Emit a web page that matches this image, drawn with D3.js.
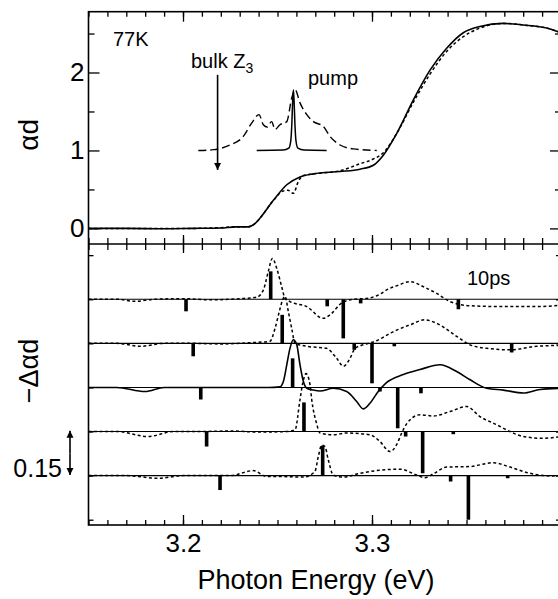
<!DOCTYPE html>
<html>
<head>
<meta charset="utf-8">
<script src="https://cdn.jsdelivr.net/npm/d3@7"></script>
<style>
  body { margin: 0; background: #fff; }
  svg { display: block; font-family: "Liberation Sans", Arial, sans-serif; }
  .axis path { display: none; }
  .axis line { stroke: #000; stroke-width: 1.3; }
  .axis text { fill: #000; }
</style>
</head>
<body>
<svg id="chart" width="558" height="599"></svg>
<script>
// ---- upper panel: absorption (alpha d) ----
const absUnpumped = [[3.150,0],[3.170,0],[3.190,-0.005],[3.205,0],[3.220,0.005],[3.228,0.02],[3.2346,0.02],[3.2380,0.06],
  [3.2407,0.13],[3.2478,0.36],[3.2549,0.56],[3.2619,0.66],[3.2690,0.70],[3.2831,0.73],[3.2937,0.76],[3.3007,0.81],
  [3.3060,0.94],[3.3131,1.22],[3.3219,1.65],[3.3307,2.03],[3.3395,2.31],[3.3483,2.51],[3.3571,2.59],[3.3695,2.63],
  [3.3800,2.61],[3.3924,2.57],[3.3977,2.53],[3.400,2.51]];
const absPumped = [[3.150,0],[3.170,0],[3.190,0],[3.205,0],[3.220,0.01],[3.228,0.02],[3.2346,0.02],[3.2380,0.06],
  [3.2407,0.13],[3.2478,0.36],[3.2530,0.48],[3.2555,0.49],[3.2584,0.45],[3.2610,0.60],[3.2637,0.68],[3.2690,0.70],
  [3.2831,0.74],[3.2937,0.83],[3.3007,0.89],[3.3060,0.97],[3.3131,1.22],[3.3219,1.62],[3.3307,1.98],[3.3395,2.27],
  [3.3483,2.46],[3.3571,2.57],[3.3695,2.63],[3.3800,2.61],[3.3924,2.57],[3.400,2.51]];
const pumpSpectrum = [[3.2081,1.0],[3.2160,1.01],[3.2249,1.07],[3.2319,1.18],[3.2363,1.35],[3.2402,1.46],[3.2425,1.33],
  [3.2446,1.30],[3.2469,1.37],[3.2487,1.27],[3.2513,1.33],[3.2549,1.37],[3.2575,1.67],[3.2593,1.78],[3.2619,1.61],
  [3.2655,1.46],[3.2690,1.37],[3.2742,1.31],[3.2778,1.18],[3.2831,1.07],[3.2901,1.02],[3.3025,1.0]];
const pumpLaser = [[3.2390,1.0],[3.2530,1.005],[3.2560,1.03],[3.2570,1.12],[3.2576,1.35],[3.2580,1.62],[3.2584,1.78],
  [3.2588,1.62],[3.2592,1.35],[3.2598,1.12],[3.2608,1.03],[3.2640,1.005],[3.2760,1.0]];
const bulkZ3 = 3.2183;

// ---- lower panel: -delta alpha d, traces top to bottom ----
const traceOffsets = [0.60, 0.45, 0.30, 0.15, 0];
const traceStyles = ['dotted', 'dotted', 'solid', 'dotted', 'dotted'];
const traceA = [[3.150,0],[3.165,0],[3.1746,-0.007],[3.185,0],[3.200,0.002],[3.215,-0.002],[3.230,0.002],[3.239,0.007],
  [3.2425,0.031],[3.2451,0.094],[3.2473,0.139],[3.2496,0.105],[3.2522,0.043],[3.2540,0.003],[3.2566,-0.008],
  [3.2655,-0.025],[3.2742,-0.065],[3.2787,-0.048],[3.2831,-0.017],[3.2901,0],[3.2972,0.003],[3.3042,0.017],
  [3.3078,0.032],[3.3140,0.048],[3.3201,0.060],[3.3271,0.043],[3.3342,0.020],[3.3413,-0.008],[3.3519,-0.022],
  [3.3695,-0.025],[3.3871,-0.025],[3.400,-0.020]];
const traceB = [[3.150,0],[3.165,0],[3.1773,-0.010],[3.190,0],[3.205,0],[3.220,-0.002],[3.235,0.002],[3.2460,0.007],
  [3.2487,0.051],[3.2510,0.109],[3.2527,0.148],[3.2540,0.160],[3.2557,0.109],[3.2575,0.051],[3.2593,0],[3.2655,-0.010],
  [3.2760,-0.017],[3.2813,-0.051],[3.2848,-0.078],[3.2884,-0.051],[3.2910,-0.017],[3.2954,-0.005],[3.3025,0.009],
  [3.3095,0.034],[3.3201,0.063],[3.3280,0.080],[3.3342,0.068],[3.3448,0.024],[3.3519,-0.005],[3.3607,-0.017],
  [3.3730,-0.022],[3.3871,-0.010],[3.400,-0.007]];
const traceC = [[3.150,0],[3.165,0],[3.1799,-0.014],[3.190,0],[3.210,0],[3.230,0],[3.245,0],[3.2513,0.002],
  [3.2531,0.020],[3.2549,0.077],[3.2566,0.133],[3.2584,0.162],[3.2602,0.145],[3.2619,0.077],[3.2637,0.020],
  [3.2655,-0.003],[3.2689,-0.009],[3.2725,-0.012],[3.2795,-0.003],[3.2866,-0.014],[3.2919,-0.048],[3.2954,-0.073],
  [3.2989,-0.054],[3.3033,-0.014],[3.3078,0.017],[3.3166,0.044],[3.3254,0.061],[3.3360,0.077],[3.3448,0.054],
  [3.3519,0.026],[3.3607,-0.003],[3.3695,-0.009],[3.3801,-0.019],[3.3889,-0.007],[3.400,-0.003]];
const traceD = [[3.150,0],[3.165,0],[3.1815,-0.017],[3.195,0],[3.210,0],[3.225,0.002],[3.240,-0.002],[3.255,0],
  [3.2593,0.006],[3.2619,0.108],[3.2633,0.163],[3.2651,0.197],[3.2672,0.160],[3.2681,0.109],[3.2707,0.027],
  [3.2725,-0.005],[3.2795,-0.011],[3.2866,-0.005],[3.2989,-0.011],[3.3042,-0.034],[3.3095,-0.068],[3.3131,-0.044],
  [3.3157,-0.005],[3.3184,0.027],[3.3254,0.057],[3.3324,0.053],[3.3413,0.068],[3.3501,0.085],[3.3571,0.051],
  [3.3660,0.023],[3.3730,0],[3.3801,-0.017],[3.3906,-0.023],[3.400,-0.017]];
const traceE = [[3.150,0],[3.170,0],[3.1869,-0.009],[3.200,0],[3.215,0],[3.225,0],[3.2372,0.017],[3.2443,-0.003],
  [3.2513,-0.003],[3.2637,-0.005],[3.2698,0.014],[3.2716,0.065],[3.2734,0.104],[3.2751,0.099],[3.2769,0.053],
  [3.2795,0.002],[3.2848,-0.005],[3.2937,0.008],[3.3025,0.017],[3.3148,0.022],[3.3237,0.002],[3.3280,-0.007],
  [3.3324,0.006],[3.3395,0.029],[3.3519,0.031],[3.3642,0.044],[3.3730,0.029],[3.3836,0.008],[3.3942,-0.001],[3.400,0]];
const traces = [traceA, traceB, traceC, traceD, traceE];

// transition markers for each trace: [energy, strength]
const barsA = [[3.2464,0.095],[3.2016,-0.041],[3.2763,-0.024],[3.2848,-0.133],[3.2940,-0.014],[3.3457,-0.034]];
const barsB = [[3.2525,0.097],[3.2054,-0.044],[3.2906,-0.022],[3.3000,-0.136],[3.3118,-0.010],[3.3739,-0.031]];
const barsC = [[3.2580,0.099],[3.2094,-0.041],[3.3042,-0.014],[3.3136,-0.139],[3.3259,-0.020]];
const barsD = [[3.2640,0.099],[3.2125,-0.051],[3.3178,-0.017],[3.3268,-0.142],[3.3430,-0.009]];
const barsE = [[3.2739,0.102],[3.2196,-0.049],[3.3416,-0.020],[3.3510,-0.150],[3.3718,-0.009]];
const bars = [barsA, barsB, barsC, barsD, barsE];

const xMinorTicks = d3.range(3.15, 3.4001, 0.01);
const xMajorTicks = [3.2, 3.3];
const yTopMajor = [0, 1, 2];
const yTopMinor = [0.5, 1.5, 2.5];
const yLowTicks = [-0.15, 0, 0.15, 0.30, 0.45, 0.60, 0.75];

const svg = d3.select('#chart');

const x = d3.scaleLinear().domain([3.15, 3.40]).range([88.5, 561]);
const yTop = d3.scaleLinear().domain([-0.2, 2.78]).range([244, 11.7]);
const yLow = d3.scaleLinear().domain([-0.168, 0.788]).range([525, 244]);

const left = x.range()[0], right = x.range()[1];

// arrow markers
const defs = svg.append('defs');
defs.append('marker')
    .attr('id', 'head')
    .attr('viewBox', '0 0 10 10')
    .attr('refX', 10).attr('refY', 5)
    .attr('markerWidth', 7).attr('markerHeight', 9)
    .attr('markerUnits', 'userSpaceOnUse')
    .attr('orient', 'auto')
    .append('path')
    .attr('d', 'M0,0 L10,5 L0,10 Z')
    .attr('fill', '#000');

// axes helper
function addAxis(axis, tx, ty, cls) {
    return svg.append('g')
        .attr('class', 'axis ' + (cls || ''))
        .attr('transform', `translate(${tx},${ty})`)
        .call(axis);
}
const noLabel = d3.axisBottom(x).tickFormat('');

// top edge ticks (inward)
addAxis(d3.axisBottom(x).tickValues(xMinorTicks).tickSize(5).tickFormat(''), 0, yTop.range()[1]);
addAxis(d3.axisBottom(x).tickValues(xMajorTicks).tickSize(10).tickFormat(''), 0, yTop.range()[1]);
// divider ticks (both sides)
addAxis(d3.axisBottom(x).tickValues(xMinorTicks).tickSize(6).tickFormat(''), 0, 244);
addAxis(d3.axisTop(x).tickValues(xMinorTicks).tickSize(6).tickFormat(''), 0, 244);
addAxis(d3.axisBottom(x).tickValues(xMajorTicks).tickSize(9).tickFormat(''), 0, 244);
addAxis(d3.axisTop(x).tickValues(xMajorTicks).tickSize(9).tickFormat(''), 0, 244);
// bottom edge ticks (inward)
addAxis(d3.axisTop(x).tickValues(xMinorTicks).tickSize(5).tickFormat(''), 0, 525);
addAxis(d3.axisTop(x).tickValues(xMajorTicks).tickSize(10).tickFormat(''), 0, 525);
// x tick labels
addAxis(d3.axisBottom(x).tickValues(xMajorTicks).tickSize(0).tickPadding(9).tickFormat(d3.format('.1f')), 0, 525)
    .selectAll('text').style('font-size', '26px');

// upper panel y ticks
addAxis(d3.axisRight(yTop).tickValues(yTopMajor).tickSize(11).tickFormat(''), left, 0);
addAxis(d3.axisRight(yTop).tickValues(yTopMinor).tickSize(6).tickFormat(''), left, 0);
addAxis(d3.axisLeft(yTop).tickValues(yTopMajor).tickSize(11).tickFormat(''), right, 0);
addAxis(d3.axisLeft(yTop).tickValues(yTopMinor).tickSize(6).tickFormat(''), right, 0);
addAxis(d3.axisLeft(yTop).tickValues(yTopMajor).tickSize(0).tickPadding(4).tickFormat(d3.format('d')), left, 0)
    .selectAll('text').style('font-size', '26px');

// lower panel y ticks
addAxis(d3.axisRight(yLow).tickValues(yLowTicks).tickSize(5).tickFormat(''), left, 0);
addAxis(d3.axisLeft(yLow).tickValues(yLowTicks).tickSize(5).tickFormat(''), right, 0);

// frame and divider
svg.append('rect')
    .attr('x', left).attr('y', yTop.range()[1])
    .attr('width', right - left).attr('height', 525 - yTop.range()[1])
    .attr('fill', 'none').attr('stroke', '#000').attr('stroke-width', 1.6);
svg.append('line')
    .attr('x1', left).attr('x2', right).attr('y1', 244).attr('y2', 244)
    .attr('stroke', '#000').attr('stroke-width', 1.6);

// ---- upper panel curves ----
const lineTop = d3.line()
    .x(d => x(d[0]))
    .y(d => yTop(d[1]))
    .curve(d3.curveMonotoneX);

svg.append('path').datum(absPumped)
    .attr('d', lineTop).attr('fill', 'none').attr('stroke', '#000')
    .attr('stroke-width', 1.5).attr('stroke-dasharray', '3,2.5');
svg.append('path').datum(absUnpumped)
    .attr('d', lineTop).attr('fill', 'none').attr('stroke', '#000')
    .attr('stroke-width', 1.6);
svg.append('path').datum(pumpSpectrum)
    .attr('d', lineTop).attr('fill', 'none').attr('stroke', '#000')
    .attr('stroke-width', 1.4).attr('stroke-dasharray', '8,4');
svg.append('path').datum(pumpLaser)
    .attr('d', lineTop).attr('fill', 'none').attr('stroke', '#000')
    .attr('stroke-width', 1.5);

// bulk Z3 arrow
svg.append('line')
    .attr('x1', x(bulkZ3)).attr('x2', x(bulkZ3))
    .attr('y1', yTop(1.97)).attr('y2', yTop(0.75))
    .attr('stroke', '#000').attr('stroke-width', 1.6)
    .attr('marker-end', 'url(#head)');

svg.append('text').attr('x', 113).attr('y', 46)
    .style('font-size', '20px').text('77K');
const bulk = svg.append('text').attr('x', 191).attr('y', 68)
    .style('font-size', '20px');
bulk.append('tspan').text('bulk Z');
bulk.append('tspan').attr('dy', 5).style('font-size', '14px').text('3');
svg.append('text').attr('x', 308).attr('y', 85)
    .style('font-size', '20px').text('pump');

// ---- lower panel ----
const lineLow = (offset) => d3.line()
    .x(d => x(d[0]))
    .y(d => yLow(d[1] + offset))
    .curve(d3.curveMonotoneX);

traces.forEach((tr, i) => {
    const off = traceOffsets[i];
    svg.append('line')
        .attr('x1', left).attr('x2', right)
        .attr('y1', yLow(off)).attr('y2', yLow(off))
        .attr('stroke', '#000').attr('stroke-width', 1.1);

    svg.append('g').selectAll('rect')
        .data(bars[i])
        .join('rect')
        .attr('x', d => x(d[0]) - 1.8)
        .attr('width', 3.6)
        .attr('y', d => Math.min(yLow(off), yLow(off + d[1])))
        .attr('height', d => Math.abs(yLow(off + d[1]) - yLow(off)))
        .attr('fill', '#000');

    svg.append('path').datum(tr)
        .attr('d', lineLow(off))
        .attr('fill', 'none').attr('stroke', '#000')
        .attr('stroke-width', traceStyles[i] === 'solid' ? 1.6 : 1.5)
        .attr('stroke-dasharray', traceStyles[i] === 'solid' ? null : '3,2.5');
});

svg.append('text').attr('x', 467).attr('y', 285)
    .style('font-size', '20px').text('10ps');

// 0.15 scale arrow
svg.append('line')
    .attr('x1', 70).attr('x2', 70)
    .attr('y1', yLow(0.075)).attr('y2', yLow(0.153))
    .attr('stroke', '#000').attr('stroke-width', 1.6)
    .attr('marker-end', 'url(#head)');
svg.append('line')
    .attr('x1', 70).attr('x2', 70)
    .attr('y1', yLow(0.075)).attr('y2', yLow(0.002))
    .attr('stroke', '#000').attr('stroke-width', 1.6)
    .attr('marker-end', 'url(#head)');
svg.append('text').attr('x', 62).attr('y', yLow(0) + 1)
    .attr('text-anchor', 'end')
    .style('font-size', '25px').text('0.15');

// axis titles
svg.append('text')
    .attr('transform', `translate(38,${yTop(1.2)}) rotate(-90)`)
    .attr('text-anchor', 'middle')
    .style('font-size', '28px').text('αd');
svg.append('text')
    .attr('transform', `translate(38,371) rotate(-90)`)
    .attr('text-anchor', 'middle')
    .style('font-size', '27px').text('−Δαd');
svg.append('text')
    .attr('x', 316).attr('y', 589)
    .attr('text-anchor', 'middle')
    .style('font-size', '27px').text('Photon Energy (eV)');
</script>
</body>
</html>
